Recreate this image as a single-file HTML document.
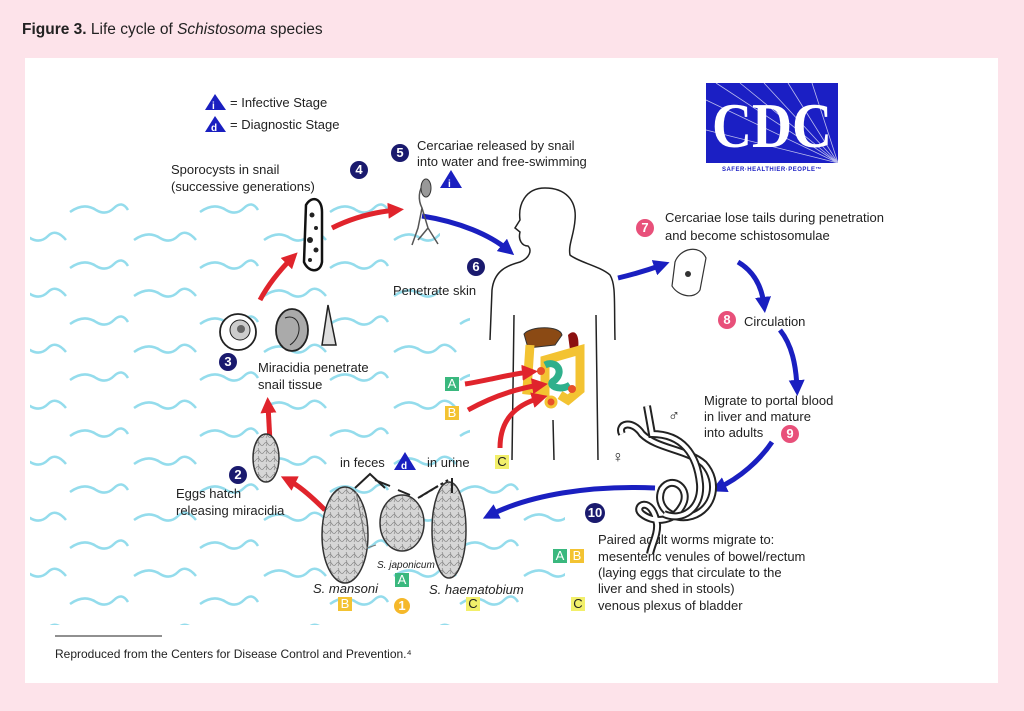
<!DOCTYPE html>
<html><head><meta charset="utf-8"><style>
html,body{margin:0;padding:0;}
body{width:1024px;height:711px;background:#fde3ea;position:relative;overflow:hidden;font-family:"Liberation Sans","DejaVu Sans",sans-serif;}
svg{position:absolute;left:0;top:0;}
text{font-family:"Liberation Sans","DejaVu Sans",sans-serif;font-size:13px;fill:#222;}
</style></head><body>
<svg width="1024" height="711" viewBox="0 0 1024 711">
<defs>
<pattern id="wv" width="130" height="56" patternUnits="userSpaceOnUse">
<path d="M4 16 Q18 6 30 14 Q40 20 48 12 Q56 4 66 16" fill="none" stroke="#94dcec" stroke-width="2.5"/>
<path d="M70 44 Q84 34 96 42 Q106 48 114 40 Q122 32 128 42" fill="none" stroke="#94dcec" stroke-width="2.5"/>
</pattern>
<pattern id="tex" width="8" height="8" patternUnits="userSpaceOnUse">
<rect width="8" height="8" fill="#d6d6d6"/><path d="M0 4 Q2 1 4 4 T8 4 M2 0 Q4 3 2 6" fill="none" stroke="#888" stroke-width="0.7"/>
</pattern>
<marker id="ar" viewBox="0 0 10 10" refX="5" refY="5" markerWidth="3.2" markerHeight="3.2" orient="auto"><path d="M0 0L10 5L0 10z" fill="#e0242c"/></marker>
<marker id="ab" viewBox="0 0 10 10" refX="5" refY="5" markerWidth="3.2" markerHeight="3.2" orient="auto"><path d="M0 0L10 5L0 10z" fill="#1a1fc0"/></marker>
</defs>
<text x="22" y="34" style="font-size:15.5px"><tspan font-weight="bold">Figure 3.</tspan> Life cycle of <tspan font-style="italic">Schistosoma</tspan> species</text>
<rect x="25" y="58" width="973" height="625" fill="#fff"/>
<path d="M30 195 L440 195 L440 300 L470 300 L470 480 L565 480 L565 625 L30 625Z" fill="url(#wv)"/>
<path d="M205 110 L215 94 L226 110Z" fill="#1a1fc0"/><text x="212" y="109" style="font-size:10px;fill:#fff;font-weight:bold">i</text>
<path d="M205 132 L215 116 L226 132Z" fill="#1a1fc0"/><text x="211" y="131" style="font-size:10px;fill:#fff;font-weight:bold">d</text>
<text x="230" y="107">= Infective Stage</text>
<text x="230" y="129">= Diagnostic Stage</text>
<rect x="706" y="83" width="132" height="80" fill="#1b1fc4"/>
<g stroke="#fff" stroke-width="0.8" opacity="0.7"><path d="M838 163 L716 83 M838 163 L740 83 M838 163 L764 83 M838 163 L788 83 M838 163 L812 83 M838 163 L706 100 M838 163 L706 130"/></g>
<text x="712" y="147" textLength="120" lengthAdjust="spacingAndGlyphs" style="font-family:'Liberation Serif',serif;font-size:64px;fill:#fff;font-weight:bold">CDC</text>
<text x="772" y="171" text-anchor="middle" style="font-size:6px;fill:#1b1fc4;font-weight:bold;letter-spacing:0.5px">SAFER·HEALTHIER·PEOPLE™</text>
<text x="171" y="174">Sporocysts in snail</text>
<text x="171" y="191">(successive generations)</text>
<text x="417" y="150">Cercariae released by snail</text>
<text x="417" y="166">into water and free-swimming</text>
<text x="393" y="295">Penetrate skin</text>
<text x="665" y="222">Cercariae lose tails during penetration</text>
<text x="665" y="240">and become schistosomulae</text>
<text x="744" y="326">Circulation</text>
<text x="704" y="405">Migrate to portal blood</text>
<text x="704" y="421">in liver and mature</text>
<text x="704" y="437">into adults</text>
<text x="258" y="372">Miracidia penetrate</text>
<text x="258" y="389">snail tissue</text>
<text x="176" y="498">Eggs hatch</text>
<text x="176" y="515">releasing miracidia</text>
<text x="340" y="467">in feces</text>
<text x="427" y="467">in urine</text>
<text x="598" y="544">Paired adult worms migrate to:</text>
<text x="598" y="561">mesenteric venules of bowel/rectum</text>
<text x="598" y="577">(laying eggs that circulate to the</text>
<text x="598" y="593">liver and shed in stools)</text>
<text x="598" y="610">venous plexus of bladder</text>
<text x="313" y="593" font-style="italic">S. mansoni</text>
<text x="377" y="568" font-style="italic" style="font-size:10px">S. japonicum</text>
<text x="429" y="594" font-style="italic">S. haematobium</text>
<text x="55" y="658" style="font-size:12px">Reproduced from the Centers for Disease Control and Prevention.⁴</text>
<line x1="55" y1="636" x2="162" y2="636" stroke="#222" stroke-width="1"/>
<g style="font-size:11px;font-weight:bold" text-anchor="middle">
<circle cx="359" cy="170" r="9" fill="#1a1a6e"/><text x="359" y="174" style="fill:#fff">4</text>
<circle cx="400" cy="153" r="9" fill="#1a1a6e"/><text x="400" y="157" style="fill:#fff">5</text>
<circle cx="476" cy="267" r="9" fill="#1a1a6e"/><text x="476" y="271" style="fill:#fff">6</text>
<circle cx="228" cy="362" r="9" fill="#1a1a6e"/><text x="228" y="366" style="fill:#fff">3</text>
<circle cx="238" cy="475" r="9" fill="#1a1a6e"/><text x="238" y="479" style="fill:#fff">2</text>
<circle cx="595" cy="513" r="10" fill="#1a1a6e"/><text x="595" y="517" style="fill:#fff">10</text>
<circle cx="645" cy="228" r="9" fill="#e8507a"/><text x="645" y="232" style="fill:#fff">7</text>
<circle cx="727" cy="320" r="9" fill="#e8507a"/><text x="727" y="324" style="fill:#fff">8</text>
<circle cx="790" cy="434" r="9" fill="#e8507a"/><text x="790" y="438" style="fill:#fff">9</text>
<circle cx="402" cy="606" r="8" fill="#f5b82a"/><text x="402" y="610" style="fill:#fff">1</text>
</g>
<path d="M440 188 L451 170 L462 188Z" fill="#1a1fc0"/><text x="448" y="187" style="font-size:10px;fill:#fff;font-weight:bold">i</text>
<path d="M394 470 L405 452 L416 470Z" fill="#1a1fc0"/><text x="401" y="469" style="font-size:10px;fill:#fff;font-weight:bold">d</text>
<g style="font-size:10px" text-anchor="middle">
<rect x="445" y="377" width="14" height="14" fill="#3ab87e"/><text x="452" y="388" style="fill:#fff">A</text>
<rect x="445" y="406" width="14" height="14" fill="#f3c332"/><text x="452" y="417" style="fill:#fff">B</text>
<rect x="495" y="455" width="14" height="14" fill="#f2ef6a"/><text x="502" y="466">C</text>
<rect x="553" y="549" width="14" height="14" fill="#3ab87e"/><text x="560" y="560" style="fill:#fff">A</text>
<rect x="570" y="549" width="14" height="14" fill="#f3c332"/><text x="577" y="560" style="fill:#fff">B</text>
<rect x="571" y="597" width="14" height="14" fill="#f2ef6a"/><text x="578" y="608">C</text>
<rect x="338" y="597" width="14" height="14" fill="#f3c332"/><text x="345" y="608" style="fill:#fff">B</text>
<rect x="395" y="573" width="14" height="14" fill="#3ab87e"/><text x="402" y="584" style="fill:#fff">A</text>
<rect x="466" y="597" width="14" height="14" fill="#f2ef6a"/><text x="473" y="608">C</text>
</g>
<path d="M545 188 C525 188 518 205 520 220 L515 228 L520 232 C518 240 522 246 528 246 C532 250 530 258 520 262 C505 266 494 272 492 290 L490 340 M545 188 C565 188 577 200 575 220 C574 235 568 245 570 255 C578 262 600 266 610 275 C616 285 614 300 615 340 M514 315 L512 460 M596 315 L598 460 M553 420 L554 460" fill="none" stroke="#222" stroke-width="1.5"/>
<path d="M524 334 C530 326 560 325 562 335 L555 345 L528 348Z" fill="#8b4a14" stroke="#333"/>
<path d="M568 335 C575 328 580 335 578 350 L570 350Z" fill="#8b1010"/>
<path d="M530 345 L527 390 L545 392 L545 360 L580 350 L580 390 L568 400 L560 395" fill="none" stroke="#f3c332" stroke-width="9"/>
<path d="M545 365 C555 360 565 370 555 380 C545 385 560 392 570 385" fill="none" stroke="#2fb08c" stroke-width="7"/>
<circle cx="541" cy="371" r="4" fill="#e8502a"/><circle cx="572" cy="389" r="4" fill="#e8502a"/><circle cx="551" cy="402" r="5" fill="#e8502a" stroke="#f3c332" stroke-width="3"/>
<g fill="none" stroke="#e0242c" stroke-width="5">
<path d="M465 384 C490 380 510 374 530 372" marker-end="url(#ar)"/>
<path d="M468 410 C495 395 520 388 540 385" marker-end="url(#ar)"/>
<path d="M500 448 C500 420 515 405 540 398" marker-end="url(#ar)"/>
<path d="M325 510 C310 495 298 485 288 480" marker-end="url(#ar)"/>
<path d="M270 442 L268 405" marker-end="url(#ar)"/>
<path d="M260 300 C268 285 280 270 292 258" marker-end="url(#ar)"/>
<path d="M332 228 C352 218 375 212 396 210" marker-end="url(#ar)"/>
</g>
<g fill="none" stroke="#1a1fc0" stroke-width="5">
<path d="M422 216 C460 222 490 235 508 250" marker-end="url(#ab)"/>
<path d="M618 278 C635 274 648 270 662 265" marker-end="url(#ab)"/>
<path d="M738 262 C755 272 762 288 764 305" marker-end="url(#ab)"/>
<path d="M780 330 C792 345 796 365 797 388" marker-end="url(#ab)"/>
<path d="M772 442 C760 460 740 478 718 488" marker-end="url(#ab)"/>
<path d="M655 488 C590 485 530 495 490 515" marker-end="url(#ab)"/>
</g>
<path d="M675 262 C680 248 700 244 706 258 L700 290 C694 300 678 296 672 286Z" fill="#fff" stroke="#333" stroke-width="1.2"/>
<circle cx="688" cy="274" r="3" fill="#333"/>
<path d="M425 182 C418 190 418 200 422 208 L418 228 L412 245 M422 208 L428 228 L438 244 M428 228 L418 240" fill="none" stroke="#555" stroke-width="1.5"/>
<ellipse cx="426" cy="188" rx="5" ry="9" fill="#999" stroke="#333"/>
<path d="M306 205 C312 195 322 198 322 212 L322 262 C320 274 308 272 304 262Z" fill="#fff" stroke="#111" stroke-width="2.5"/>
<g fill="#222"><circle cx="312" cy="215" r="2.5"/><circle cx="316" cy="228" r="2"/><circle cx="310" cy="240" r="3"/><circle cx="316" cy="250" r="2.5"/><circle cx="310" cy="260" r="2"/></g>
<circle cx="238" cy="332" r="18" fill="#fff" stroke="#222" stroke-width="1.8"/><circle cx="240" cy="330" r="10" fill="#ccc" stroke="#222"/><circle cx="241" cy="329" r="4" fill="#666"/>
<ellipse cx="292" cy="330" rx="16" ry="21" fill="#aaa" stroke="#222" stroke-width="1.8"/><path d="M285 318 C300 312 305 335 290 345" fill="none" stroke="#222"/>
<path d="M322 345 L328 305 L336 345Z" fill="#ddd" stroke="#222" stroke-width="1.5"/>
<ellipse cx="266" cy="458" rx="13" ry="24" fill="url(#tex)" stroke="#333" stroke-width="1.5"/>
<g stroke="#333" stroke-width="1.5">
<ellipse cx="345" cy="535" rx="23" ry="48" fill="url(#tex)"/>
<ellipse cx="402" cy="523" rx="22" ry="28" fill="url(#tex)"/>
<ellipse cx="449" cy="530" rx="17" ry="48" fill="url(#tex)"/>
</g>
<path d="M356 492 L367 548 L376 545" fill="none" stroke="#777"/>
<path d="M355 488 L370 474 L385 488 M375 480 L390 486 M398 490 L410 495 M418 498 L438 486 M452 478 L452 493" fill="none" stroke="#222" stroke-width="2"/>
<path d="M420 497 L448 480" fill="none" stroke="#222" stroke-width="2" stroke-dasharray="3 3"/>
<g fill="none" transform="translate(-8,-6)">
<path d="M630 440 C625 430 640 425 650 440 C665 455 695 455 712 470 C728 488 722 515 700 522 C680 528 662 512 670 495 C680 480 700 495 690 512 C680 530 660 528 650 520 C640 512 660 500 665 530 C666 540 660 550 658 560" stroke="#222" stroke-width="8"/>
<path d="M630 440 C625 430 640 425 650 440 C665 455 695 455 712 470 C728 488 722 515 700 522 C680 528 662 512 670 495 C680 480 700 495 690 512 C680 530 660 528 650 520 C640 512 660 500 665 530 C666 540 660 550 658 560" stroke="#fff" stroke-width="4"/>
<path d="M655 412 L660 440 C690 440 705 460 708 490 C710 515 690 528 672 520" stroke="#222" stroke-width="8"/>
<path d="M655 412 L660 440 C690 440 705 460 708 490 C710 515 690 528 672 520" stroke="#fff" stroke-width="4"/>
</g>
<text x="668" y="421" style="font-size:16px">♂</text>
<text x="612" y="462" style="font-size:16px">♀</text>
</svg>
</body></html>
